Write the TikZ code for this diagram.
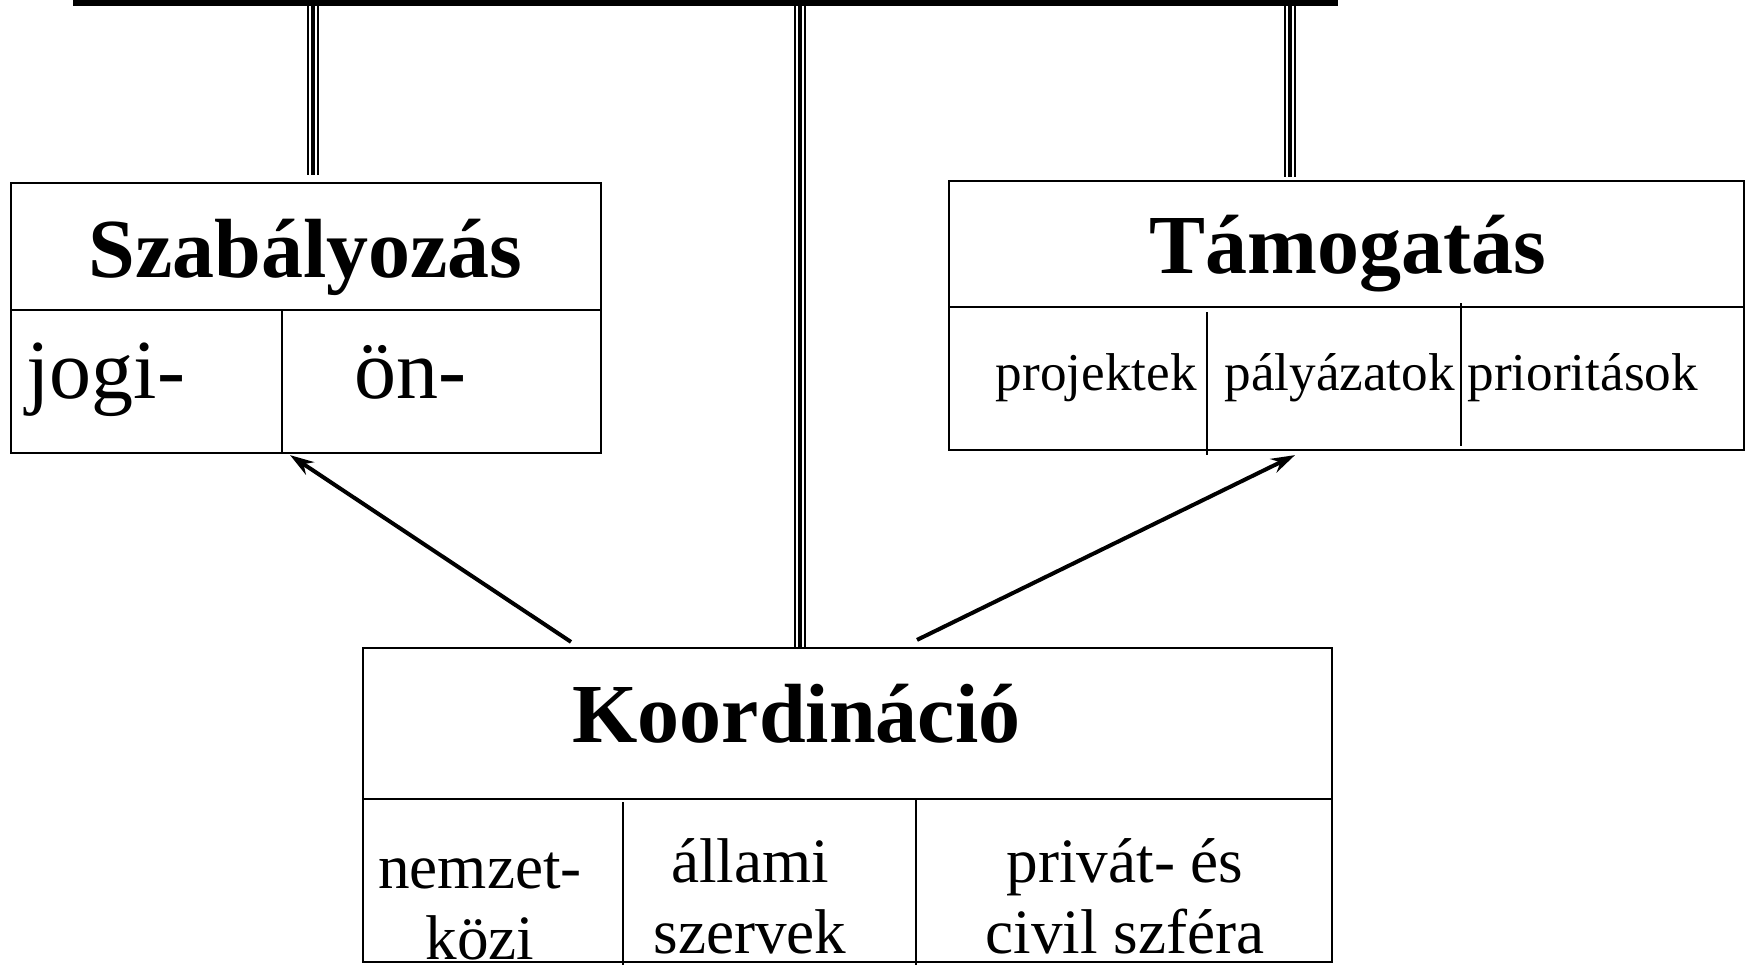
\documentclass[tikz,border=0pt]{standalone}
\usepackage{fontspec}
\setmainfont{Liberation Serif}
\usetikzlibrary{arrows.meta}

\tikzset{
  box/.style={draw, line width=1.1pt, inner sep=0pt},
  sep/.style={line width=0.9pt},
  triple/.style={draw=white, line width=4pt,
    preaction={draw=black, line width=5.8pt},
    postaction={draw=black, line width=2.4pt}},
  flow/.style={-{Stealth[length=12pt,width=7.5pt]}, line width=2pt},
  title/.style={font=\bfseries\fontsize{42}{48}\selectfont, inner sep=0pt, anchor=base},
  big/.style={font=\fontsize{42}{48}\selectfont, inner sep=0pt, anchor=base west},
  small/.style={font=\fontsize{26.6}{30}\selectfont, inner sep=0pt, anchor=base west},
  mid/.style={font=\fontsize{31.6}{35.5}\selectfont, inner sep=0pt, anchor=base, align=center},
}

\begin{document}
\begin{tikzpicture}[x=0.5pt,y=-0.5pt]
        % page frame, in pixels
        \clip (0,0) rectangle (1746,965);

        % the bar on top
        \node[fill, inner sep=0pt, minimum width=632.5pt, minimum height=4pt] (bar) at (705.5,2) {};

        % Szabályozás
        \node[box, minimum width=295pt, minimum height=63.5pt] (szabhead) at (306,246.5) {};
        \node[box, minimum width=295pt, minimum height=71.5pt] (szabbody) at (306,381.5) {};
        \draw[sep] (282,310) -- (282,453);
        \node[title] (szab) at (305.5,277) {Szabályozás};
        \node[big] (jogi) at (26,398) {jogi-};
        \node[big] (on) at (354,398) {ön-};

        % Támogatás
        \node[box, minimum width=397.5pt, minimum height=63pt] (tamhead) at (1346.5,244) {};
        \node[box, minimum width=397.5pt, minimum height=71.5pt] (tambody) at (1346.5,378.5) {};
        \draw[sep] (1207,312) -- (1207,455)
                   (1461,303) -- (1461,446);
        \node[title] (tam) at (1348,273) {Támogatás};
        \node[small] (proj) at (995.5,390) {projektek};
        \node[small] (paly) at (1224,390) {pályázatok};
        \node[small] (prio) at (1467,390) {prioritások};

        % Koordináció
        \node[box, minimum width=484.5pt, minimum height=75.5pt] (kohead) at (847.5,723.5) {};
        \node[box, minimum width=484.5pt, minimum height=81.5pt] (kobody) at (847.5,880.5) {};
        \draw[sep] (623,802) -- (623,965)
                   (916,799) -- (916,965);
        \node[title] (koord) at (796.5,742) {Koordináció};
        \node[mid] (nemz) at (480,959) {nemzet-\\közi};
        \node[mid] (allami) at (750,953) {állami\\szervek};
        \node[mid] (privat) at (1125,953) {privát- és\\civil szféra};

        % the three links to the bar
        \coordinate (szabtop) at ([xshift=3.5pt,yshift=3.5pt]szabhead.north);
        \coordinate (kotop) at ([xshift=-23.75pt]kohead.north);
        \coordinate (tamtop) at ([xshift=-28.25pt,yshift=1.5pt]tamhead.north);
        \draw[triple] (bar.south -| szabtop) -- (szabtop);
        \draw[triple] (bar.south -| kotop) -- (kotop);
        \draw[triple] (bar.south -| tamtop) -- (tamtop);

        % arrows from the coordination
        \draw[flow] ([xshift=-138.25pt,yshift=2.5pt]kohead.north) -- ([xshift=-8pt,yshift=-0.5pt]szabbody.south);
        \draw[flow] ([xshift=34.75pt,yshift=3.5pt]kohead.north) -- ([xshift=-25.75pt,yshift=-2pt]tambody.south);
\end{tikzpicture}
\end{document}
